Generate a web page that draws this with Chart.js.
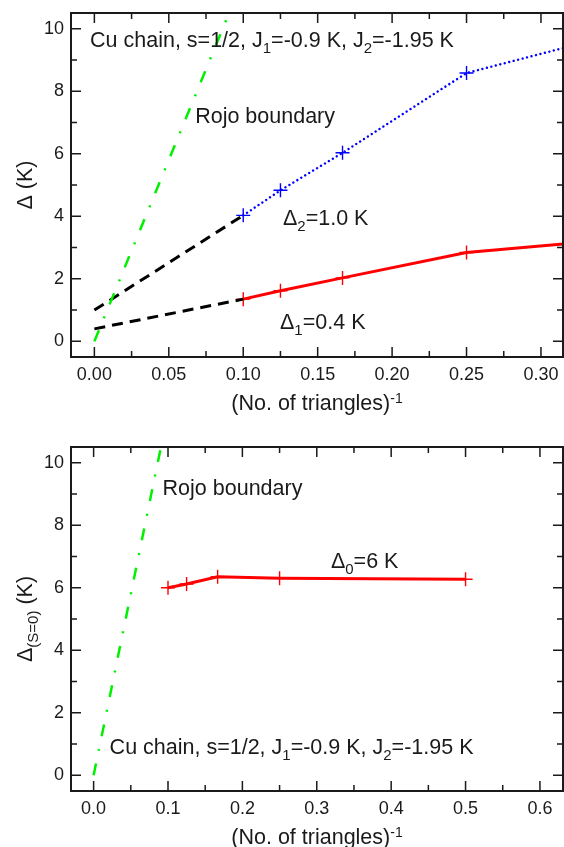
<!DOCTYPE html>
<html>
<head>
<meta charset="utf-8">
<script src="https://cdn.jsdelivr.net/npm/chart.js@4"></script>
<style>
  html, body { margin: 0; padding: 0; background: #fff; overflow: hidden; }
  #page { position: relative; width: 564px; height: 847px; }
  .panel { position: absolute; left: 0; }
</style>
</head>
<body>
<div id="page">
  <div class="panel" style="top:0;width:564px;height:424px"><canvas id="upper" width="564" height="424"></canvas></div>
  <div class="panel" style="top:424px;width:564px;height:423px"><canvas id="lower" width="564" height="423"></canvas></div>
</div>
<script>
// ---- data -------------------------------------------------------------
// inverse number of triangles (1/N) for N = 10, 8, 6, 4, 2
const invN = [0.1, 0.125, 0.1667, 0.25, 0.5];
// spin gaps (K)
const gapDelta2 = [4.03, 4.83, 6.03, 8.58, 11.66];
const gapDelta1 = [1.35, 1.62, 2.03, 2.84, 3.88];
const gapDelta0 = [6.0, 6.12, 6.35, 6.30, 6.27];
// extrapolations to the infinite chain
const fitX = [0, 0.1];
const fitDelta2 = [1.0, 4.03];
const fitDelta1 = [0.4, 1.35];
// Rojo boundary
const rojoX = [0, 0.1];
const rojoY = [0, 11.6];

// ---- axes ticks --------------------------------------------------------
const yTickValues = [0, 2, 4, 6, 8, 10];
const yTickLabels = ['0', '2', '4', '6', '8', '10'];
const yMinorValues = [1, 3, 5, 7, 9];
const upperXTickValues = [0, 0.05, 0.1, 0.15, 0.2, 0.25, 0.3];
const upperXTickLabels = ['0.00', '0.05', '0.10', '0.15', '0.20', '0.25', '0.30'];
const upperXMinorValues = [0.025, 0.075, 0.125, 0.175, 0.225, 0.275];
const lowerXTickValues = [0, 0.1, 0.2, 0.3, 0.4, 0.5, 0.6];
const lowerXTickLabels = ['0.0', '0.1', '0.2', '0.3', '0.4', '0.5', '0.6'];
const lowerXMinorValues = [0.05, 0.15, 0.25, 0.35, 0.45, 0.55];

const FONT = '"Liberation Sans", Arial, Helvetica, sans-serif';
const INK = '#1a1a1a';
const GREEN = '#00f000';
const BLUE = '#0000ff';
const RED = '#ff0000';

const pts = (xs, ys) => xs.map((x, i) => ({ x, y: ys[i] }));

// ---- rich text (sub / superscripts) -------------------------------------
const ROLE = {
  main: { size: 21.5, shift: 0 },
  sub:  { size: 15, shift: 6 },
  sup:  { size: 14, shift: -7 }
};
function drawRich(ctx, parts, x, yMid, align) {
  let total = 0;
  const sized = parts.map(([text, role]) => {
    const r = ROLE[role || 'main'];
    ctx.font = r.size + 'px ' + FONT;
    const w = ctx.measureText(text).width;
    total += w;
    return { text, r, w };
  });
  let cx = align === 'center' ? x - total / 2 : x;
  const base = yMid + 0.716 * ROLE.main.size / 2;
  ctx.textAlign = 'left';
  ctx.textBaseline = 'alphabetic';
  for (const s of sized) {
    ctx.font = s.r.size + 'px ' + FONT;
    ctx.fillText(s.text, cx, base + s.r.shift);
    cx += s.w;
  }
}

// frame with inward ticks on all four sides, notes and axis titles
const framePlugin = {
  id: 'frame',
  afterDatasetsDraw(chart, args, o) {
    const { ctx, chartArea: a } = chart;
    const x = chart.scales.x, y = chart.scales.y;
    ctx.save();
    ctx.strokeStyle = INK;
    ctx.lineWidth = 1.5;
    ctx.lineCap = 'butt';
    ctx.setLineDash([]);
    ctx.beginPath();
    const xt = (vals, len) => vals.forEach(v => {
      const p = x.getPixelForValue(v);
      ctx.moveTo(p, a.bottom); ctx.lineTo(p, a.bottom - len);
      ctx.moveTo(p, a.top); ctx.lineTo(p, a.top + len);
    });
    const yt = (vals, len) => vals.forEach(v => {
      const p = y.getPixelForValue(v);
      ctx.moveTo(a.left, p); ctx.lineTo(a.left + len, p);
      ctx.moveTo(a.right, p); ctx.lineTo(a.right - len, p);
    });
    xt(o.xMajor, 10); xt(o.xMinor, 6);
    yt(yTickValues, 10); yt(yMinorValues, 6);
    ctx.stroke();
    ctx.lineWidth = 2;
    ctx.strokeRect(a.left, a.top, a.right - a.left, a.bottom - a.top);

    ctx.fillStyle = INK;
    for (const n of o.notes) {
      drawRich(ctx, n.parts, x.getPixelForValue(n.x), y.getPixelForValue(n.y), 'left');
    }
    drawRich(ctx, o.xTitle, (a.left + a.right) / 2, a.bottom + 45, 'center');
    ctx.save();
    ctx.translate(24, (a.top + a.bottom) / 2);
    ctx.rotate(-Math.PI / 2);
    drawRich(ctx, o.yTitle, 0, 0, 'center');
    ctx.restore();
    ctx.restore();
  }
};

const chainNote = [['Cu chain, s=1/2, J'], ['1', 'sub'], ['=-0.9 K, J'], ['2', 'sub'], ['=-1.95 K']];
const xTitle = [['(No. of triangles)'], ['-1', 'sup']];

function lineSet(data, color, width, dash, extra) {
  return Object.assign({
    data, borderColor: color, backgroundColor: color, borderWidth: width,
    borderDash: dash, pointRadius: 0, pointHoverRadius: 0, tension: 0,
    fill: false, clip: 0
  }, extra || {});
}
const crossPoints = color => ({
  pointStyle: 'cross', pointRadius: 7, pointBorderWidth: 1.4,
  pointBorderColor: color, pointBackgroundColor: color
});

function makeChart(id, datasets, cfg) {
  return new Chart(document.getElementById(id), {
    type: 'line',
    data: { datasets },
    plugins: [framePlugin],
    options: {
      responsive: false,
      animation: false,
      events: [],
      layout: { padding: cfg.padding, autoPadding: false },
      plugins: {
        legend: { display: false },
        tooltip: { enabled: false },
        frame: cfg.frame
      },
      scales: {
        x: {
          type: 'linear', min: cfg.xMin, max: cfg.xMax,
          grid: { display: false, drawTicks: false },
          border: { display: false },
          afterBuildTicks: s => { s.ticks = cfg.xTicks.map(v => ({ value: v })); },
          afterFit: s => { s.height = 50; s.paddingLeft = 0; s.paddingRight = 0; },
          ticks: {
            includeBounds: false, padding: 7, color: INK,
            font: { family: FONT, size: 18 },
            maxRotation: 0, autoSkip: false,
            callback: (v, i) => cfg.xLabels[i]
          }
        },
        y: {
          type: 'linear', min: -0.5, max: 10.5,
          grid: { display: false, drawTicks: false },
          border: { display: false },
          afterBuildTicks: s => { s.ticks = yTickValues.map(v => ({ value: v })); },
          afterFit: s => { s.width = 71; s.paddingTop = 0; s.paddingBottom = 0; },
          ticks: {
            includeBounds: false, padding: 7, color: INK,
            font: { family: FONT, size: 18 },
            autoSkip: false,
            callback: (v, i) => yTickLabels[i]
          }
        }
      }
    }
  });
}

// upper panel: lowest gaps Δ1, Δ2 versus 1/N
makeChart('upper', [
  lineSet(pts(rojoX, rojoY), GREEN, 2.5, [12, 13, 2, 13]),
  lineSet(pts(fitX, fitDelta2), '#000', 3, [11, 7]),
  lineSet(pts(fitX, fitDelta1), '#000', 3, [11, 7]),
  lineSet(pts(invN, gapDelta2), BLUE, 2.4, [0.01, 4.6],
    Object.assign({ borderCapStyle: 'round' }, crossPoints(BLUE))),
  lineSet(pts(invN, gapDelta1), RED, 3, [], crossPoints(RED))
], {
  padding: { top: 13, right: 1, bottom: 17, left: 0 },
  xMin: -0.0157, xMax: 0.3148,
  xTicks: upperXTickValues, xLabels: upperXTickLabels,
  frame: {
    xMajor: upperXTickValues, xMinor: upperXMinorValues,
    xTitle, yTitle: [['Δ (K)']],
    notes: [
      { x: -0.0029, y: 9.66, parts: chainNote },
      { x: 0.0677, y: 7.23, parts: [['Rojo boundary']] },
      { x: 0.1267, y: 3.98, parts: [['Δ'], ['2', 'sub'], ['=1.0 K']] },
      { x: 0.1247, y: 0.63, parts: [['Δ'], ['1', 'sub'], ['=0.4 K']] }
    ]
  }
});

// lower panel: singlet-sector gap Δ(S=0) versus 1/N
makeChart('lower', [
  lineSet(pts(rojoX, rojoY), GREEN, 2.5, [12, 13, 2, 13]),
  lineSet(pts(invN, gapDelta0), RED, 3, [], crossPoints(RED))
], {
  padding: { top: 23, right: 1, bottom: 6, left: 0 },
  xMin: -0.0304, xMax: 0.631,
  xTicks: lowerXTickValues, xLabels: lowerXTickLabels,
  frame: {
    xMajor: lowerXTickValues, xMinor: lowerXMinorValues,
    xTitle, yTitle: [['Δ'], ['(S=0)', 'sub'], [' (K)']],
    notes: [
      { x: 0.0927, y: 9.2, parts: [['Rojo boundary']] },
      { x: 0.319, y: 6.89, parts: [['Δ'], ['0', 'sub'], ['=6 K']] },
      { x: 0.0215, y: 0.94, parts: chainNote }
    ]
  }
});
</script>
</body>
</html>
